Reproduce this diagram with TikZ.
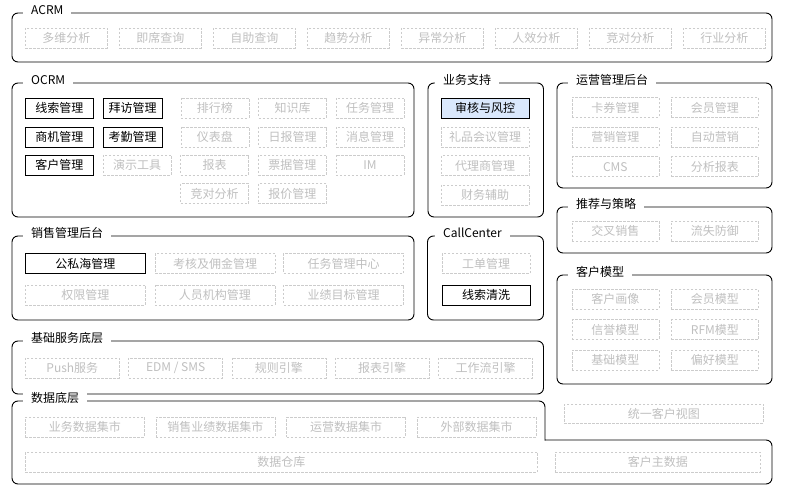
\documentclass[tikz,border=0pt]{standalone}
\usepackage{fontspec}
\setmainfont{Noto Sans CJK SC}
\usepackage{tikz}
\usetikzlibrary{positioning}

\definecolor{faint}{HTML}{CCCCCC}
\definecolor{fainttext}{HTML}{BFBFBF}
\definecolor{pickblue}{HTML}{DAE8FC}

\begin{document}
\begin{tikzpicture}[x=1pt, y=-1pt, font=\fontsize{12}{14}\selectfont,
    grp/.style = {draw, line width=0.9pt, rounded corners=6pt},
    lbl/.style = {fill=white, anchor=west, inner xsep=8pt, inner ysep=1pt},
    itm/.style = {draw=faint, dash pattern=on 2.5pt off 1.5pt, line width=0.6pt, text=fainttext, minimum height=20pt, inner sep=0pt},
    sel/.style = {draw, line width=0.8pt, minimum height=20pt, inner sep=0pt}]
    \useasboundingbox (0,0) rectangle (785,494);

    % frames
    \draw[grp] (12,13) rectangle (772,62);
    \draw[grp] (12,83) rectangle (414,217);
    \draw[grp] (428,83) rectangle (543.5,217);
    \draw[grp] (557,83) rectangle (772,188);
    \draw[grp] (557,207) rectangle (772,253);
    \draw[grp] (557,275) rectangle (772,384);
    \draw[grp] (12,236) rectangle (414,320);
    \draw[grp] (427.5,236) rectangle (543.5,320);
    \draw[grp] (12,341) rectangle (543.5,394);
    \draw[grp] (545,440) -- (772,440) -- (772,484) -- (12,484) -- (12,401) -- (545,401) -- (545,440.5);

    \node[lbl](tA) at (23,10) {ACRM};
    \node[lbl](tO) at (23,80) {OCRM};
    \node[lbl](tB) at (435,80) {业务支持};
    \node[lbl](tY) at (568,80) {运营管理后台};
    \node[lbl](tT) at (568,204) {推荐与策略};
    \node[lbl](tK) at (568,272) {客户模型};
    \node[lbl](tX) at (23,233) {销售管理后台};
    \node[lbl](tC) at (435,233) {CallCenter};
    \node[lbl](tJ) at (23,338) {基础服务底层};
    \node[lbl](tS) at (23,398) {数据底层};

    % ACRM
    \begin{scope}[minimum width=82pt]
    \node[itm, anchor=west](a1) at (25,38) {多维分析};
    \node[itm](a2)[right=11.4pt of a1]{即席查询};
    \node[itm](a3)[right=11.4pt of a2]{自助查询};
    \node[itm](a4)[right=11.4pt of a3]{趋势分析};
    \node[itm](a5)[right=11.4pt of a4]{异常分析};
    \node[itm](a6)[right=11.4pt of a5]{人效分析};
    \node[itm](a7)[right=11.4pt of a6]{竞对分析};
    \node[itm](a8)[right=11.4pt of a7]{行业分析};
    \end{scope}

    % OCRM
    \begin{scope}[minimum width=68pt]
    \node[sel, anchor=west](o1) at (25,108) {线索管理};
    \node[sel, minimum width=59pt](o2)[right=9pt of o1]{拜访管理};
    \node[itm](o3)[right=18pt of o2]{排行榜};
    \node[itm](o4)[right=9pt of o3]{知识库};
    \node[itm](o5)[right=9pt of o4]{任务管理};
    \node[sel, anchor=west](o6) at (25,137) {商机管理};
    \node[sel, minimum width=59pt](o7)[right=9pt of o6]{考勤管理};
    \node[itm](o8)[right=18pt of o7]{仪表盘};
    \node[itm](o9)[right=9pt of o8]{日报管理};
    \node[itm](o10)[right=9pt of o9]{消息管理};
    \node[sel, anchor=west](o11) at (25,165) {客户管理};
    \node[itm](o12)[right=9pt of o11]{演示工具};
    \node[itm](o13)[right=9pt of o12]{报表};
    \node[itm](o14)[right=9pt of o13]{票据管理};
    \node[itm](o15)[right=9pt of o14]{IM};
    \node[itm](o16)[below=8pt of o13]{竞对分析};
    \node[itm](o17)[right=9pt of o16]{报价管理};
    \end{scope}

    % 业务支持
    \begin{scope}[minimum width=88pt]
    \node[sel, fill=pickblue](b1) at (485.2,108) {审核与风控};
    \node[itm](b2)[below=8.5pt of b1]{礼品会议管理};
    \node[itm](b3)[below=8pt of b2]{代理商管理};
    \node[itm](b4)[below=8.5pt of b3]{财务辅助};
    \end{scope}

    % 运营管理后台
    \begin{scope}[minimum width=87pt]
    \node[itm, anchor=west](y1) at (571.5,107.5) {卡券管理};
    \node[itm](y2)[right=12pt of y1]{会员管理};
    \node[itm](y3)[below=9pt of y1]{营销管理};
    \node[itm](y4)[right=12pt of y3]{自动营销};
    \node[itm](y5)[below=9pt of y3]{CMS};
    \node[itm](y6)[right=12pt of y5]{分析报表};
    \end{scope}

    % 推荐与策略
    \begin{scope}[minimum width=87pt]
    \node[itm, anchor=west](r1) at (571.5,231) {交叉销售};
    \node[itm](r2)[right=12pt of r1]{流失防御};
    \end{scope}

    % 客户模型
    \begin{scope}[minimum width=87pt]
    \node[itm, anchor=west](k1) at (571.5,299.2) {客户画像};
    \node[itm](k2)[right=12pt of k1]{会员模型};
    \node[itm](k3)[below=10pt of k1]{信誉模型};
    \node[itm](k4)[right=12pt of k3]{RFM模型};
    \node[itm](k5)[below=10pt of k3]{基础模型};
    \node[itm](k6)[right=12pt of k5]{偏好模型};
    \end{scope}

    % 销售管理后台
    \begin{scope}[minimum width=120pt, minimum height=21pt]
    \node[sel, anchor=west](x1) at (25,263.5) {公私海管理};
    \node[itm](x2)[right=9pt of x1]{考核及佣金管理};
    \node[itm](x3)[right=8pt of x2]{任务管理中心};
    \node[itm, anchor=west](x4) at (25,295) {权限管理};
    \node[itm](x5)[right=9pt of x4]{人员机构管理};
    \node[itm](x6)[right=8pt of x5]{业绩目标管理};
    \end{scope}

    % CallCenter
    \begin{scope}[minimum width=88pt, minimum height=21pt]
    \node[itm](c1) at (486,263.5) {工单管理};
    \node[sel](c2) at (486,295) {线索清洗};
    \end{scope}

    % 基础服务底层
    \begin{scope}[minimum width=94pt]
    \node[itm, anchor=west](j1) at (25,368) {Push服务};
    \node[itm](j2)[right=8.7pt of j1]{EDM / SMS};
    \node[itm](j3)[right=8.7pt of j2]{规则引擎};
    \node[itm](j4)[right=8.7pt of j3]{报表引擎};
    \node[itm](j5)[right=8.7pt of j4]{工作流引擎};
    \end{scope}

    % 数据底层
    \begin{scope}[minimum width=119pt]
    \node[itm, anchor=west](s1) at (25,427) {业务数据集市};
    \node[itm](s2)[right=11pt of s1]{销售业绩数据集市};
    \node[itm](s3)[right=11pt of s2]{运营数据集市};
    \node[itm](s4)[right=11pt of s3]{外部数据集市};
    \end{scope}
    \node[itm, anchor=west, minimum width=512pt](s5) at (25,462) {数据仓库};
    \node[itm, anchor=west, minimum width=205pt](s6) at (555,462) {客户主数据};
    \node[itm, anchor=west, minimum width=199pt, minimum height=19pt](s7) at (564,413.5) {统一客户视图};
  \end{tikzpicture}
\end{document}
